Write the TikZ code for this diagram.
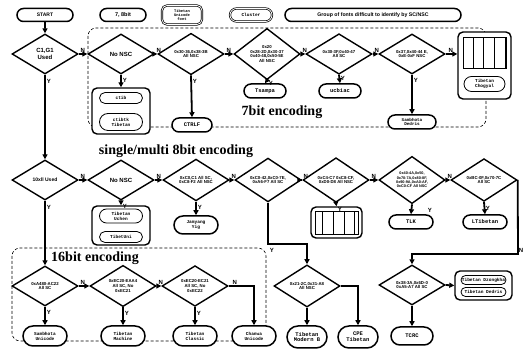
\documentclass[tikz,border=0pt]{standalone}
\usepackage{fontspec}
\newfontfamily\dsans{Liberation Sans}
\newfontfamily\dmono{Liberation Mono}
\newfontfamily\dserif{Liberation Serif}
\usetikzlibrary{shapes.geometric,shapes.misc,arrows.meta,calc}
\begin{document}
\begin{tikzpicture}[x=1pt,y=-1pt,
 dia/.style={diamond, draw, line width=1.4pt, minimum width=66pt, minimum height=40pt, inner sep=0pt, align=center, fill=white, font=\dsans\bfseries\fontsize{4.3}{4.9}\selectfont},
 bigt/.style={font=\dsans\bfseries\fontsize{6}{6.5}\selectfont},
 pill/.style={rounded rectangle, draw, line width=1.5pt, minimum width=44pt, minimum height=14pt, inner sep=1pt, align=center, fill=white, font=\dmono\bfseries\fontsize{5.5}{5.8}\selectfont},
 ipill/.style={rounded rectangle, draw, line width=0.8pt, minimum width=44pt, minimum height=10pt, inner sep=0.5pt, align=center, fill=white, font=\dmono\bfseries\fontsize{4.5}{4.8}\selectfont},
 grp/.style={draw, line width=1.4pt, rounded corners=5pt, fill=white},
 arr/.style={line width=1.8pt, -{Triangle[length=5pt,width=5pt]}},
 lab/.style={font=\dsans\bfseries\fontsize{6}{6}\selectfont, inner sep=1pt},
 region/.style={densely dashed, line width=0.6pt, rounded corners=8pt},
 head/.style={font=\dserif\bfseries\fontsize{14}{14}\selectfont}
]
\useasboundingbox (0,0) rectangle (523,352);
% regions
\draw[region] (88,28) rectangle (486,127);
\draw[region] (12,248) rectangle (266,341);
% headings
\node[head] (h7) at (282,112) {7bit encoding};
\node[head] (h8) at (176,151) {single/multi 8bit encoding};
\node[head] (h16) at (95,258) {16bit encoding};
% legend
\node[pill, minimum width=58pt, minimum height=13pt, font=\dsans\bfseries\fontsize{5}{5}\selectfont] (start) at (45,15) {START};
\node[pill, minimum width=48pt, minimum height=13pt, font=\dsans\bfseries\fontsize{5.5}{5.5}\selectfont] (lg1) at (123,15) {7, 8bit};
\node[grp, minimum width=40pt, minimum height=19pt, double, double distance=0.8pt, line width=0.7pt, align=center, font=\dmono\bfseries\fontsize{3.8}{4.2}\selectfont] (lg2) at (182,15) {Tibetan\\Unicode\\font};
\node[pill, minimum width=44pt, minimum height=13pt, double, double distance=0.8pt, line width=0.7pt, font=\dmono\bfseries\fontsize{4.5}{4.5}\selectfont] (lg3) at (251,15) {Cluster};
\node[pill, minimum width=178pt, minimum height=13pt, font=\dsans\bfseries\fontsize{5.2}{5.2}\selectfont] (lg4) at (373,15) {Group of fonts difficult to identify by SC/NSC};
% row 1 diamonds
\node[dia, bigt] (d1) at (45,54) {C1,G1\\Used};
\node[dia, bigt] (d2) at (121,54) {No NSC};
\node[dia] (d3) at (191,54) {0x30-36,0x38-3B\\All NSC};
\node[dia] (d4) at (267,54) {0x20\\0x28-2D,0x30-37\\0x40-48,0x50-5E\\All NSC};
\node[dia] (d5) at (339,54) {0x30-3F,0x40-47\\All SC};
\node[dia] (d6) at (412,54) {0x37,0x40-44 E,\\0xE-0xF NSC};
% row 1 outputs
\node[grp, minimum width=58pt, minimum height=46pt] (b2) at (121,111) {};
\node[ipill, minimum height=11pt] (b2a) at (121,98) {ctib};
\node[ipill, minimum height=17pt] (b2b) at (121,122) {ctibtk\\Tibetan};
\node[pill, minimum width=42pt] (p3) at (192,125) {CTRLF};
\node[pill] (p4) at (265,91) {Tsampa};
\node[pill] (p5) at (340,91) {ucbiac};
\node[pill, minimum width=50pt, font=\dmono\bfseries\fontsize{4.3}{4.6}\selectfont] (p6) at (412,122) {Sambhota\\Dedris};
\node[grp, minimum width=53pt, minimum height=67pt] (bb) at (484.5,65.5) {};
\draw[line width=0.6pt] (463,37) grid[xstep=10.75,ystep=5.17] (506,68);
\draw[line width=0.9pt] (463,37) rectangle (506,68);
\node[ipill, minimum width=42pt, minimum height=15pt] (bbp) at (484.5,84) {Tibetan\\Chogyal};
% row 2 diamonds
\node[dia, bigt, font=\dsans\bfseries\fontsize{5}{5.5}\selectfont] (d7) at (45,180) {10xll Used};
\node[dia, bigt] (d8) at (121,180) {No NSC};
\node[dia] (d9) at (196,180) {0xC0,C1 All SC,\\0xC8-F2 All NSC};
\node[dia] (d10) at (268,180) {0xC0-42,0xC0-7E,\\0xA6-F7 All SC};
\node[dia] (d11) at (336,180) {0xC4-C7 0xC8-CF,\\0xD0-D8 All NSC};
\node[dia, font=\dsans\bfseries\fontsize{3.8}{4.3}\selectfont] (d12) at (412,180) {0x40-4A,0x50,\\0x70-7A,0x80-8F,\\0x90-9A,0xA0-AF,\\0xC0-CF All NSC};
\node[dia] (d13) at (484,180) {0xBC-0F,0x70-7C\\All SC};
% row 2 outputs
\node[grp, minimum width=58pt, minimum height=39pt] (b8) at (121,225.5) {};
\node[ipill, minimum height=14pt] (b8a) at (121,216) {Tibetan\\Uchen};
\node[ipill, minimum height=11pt] (b8b) at (121,237) {TibetUni};
\node[pill, minimum width=46pt, minimum height=18pt, font=\dmono\bfseries\fontsize{4.5}{4.8}\selectfont] (p9) at (196,225) {Jamyang\\Yig};
\node[grp, minimum width=51pt, minimum height=31pt] (b11) at (336.5,222.5) {};
\draw[line width=0.6pt] (315,211) grid[xstep=10.75,ystep=4.66] (358,234);
\draw[line width=0.9pt] (315,211) rectangle (358,234);
\node[pill, minimum width=46pt] (p12) at (411,222) {TLK};
\node[pill, minimum width=46pt] (p13) at (485,222) {LTibetan};
% row 3 diamonds
\node[dia] (d16) at (45,286) {0xA480-AC22\\All SC};
\node[dia] (d17) at (123,286) {0xEC20-EAA4\\All SC, No\\0xEC21};
\node[dia] (d18) at (195,286) {0xEC20-EC21\\All SC, No\\0xEC22};
% row 3 outputs
\node[pill, minimum width=46pt, minimum height=20pt, font=\dmono\bfseries\fontsize{4.5}{4.8}\selectfont] (p16) at (45,336) {Sambhota\\Unicode};
\node[pill, minimum width=46pt, minimum height=20pt, font=\dmono\bfseries\fontsize{4.5}{4.8}\selectfont] (p17) at (123,336) {Tibetan\\Machine};
\node[pill, minimum width=46pt, minimum height=20pt, font=\dmono\bfseries\fontsize{4.5}{4.8}\selectfont] (p18) at (195,336) {Tibetan\\Classic};
\node[pill, minimum width=46pt, minimum height=20pt, font=\dmono\bfseries\fontsize{4.5}{4.8}\selectfont] (p19) at (254,336) {Chanwa\\Unicode};
% right lower part
\node[dia, font=\dsans\bfseries\fontsize{4.3}{4.9}\selectfont] (d14) at (307,286) {0x21-2C,0x31-A8\\All NSC};
\node[dia] (d15) at (412,285) {0x38-3A,0x6D-0\\0xA5-A7 All SC};
\node[pill, minimum width=42pt, minimum height=22pt] (p14a) at (307,337) {Tibetan\\Modern B};
\node[pill, minimum width=42pt, minimum height=22pt] (p14b) at (358,337) {CPE\\Tibetan};
\node[pill, minimum width=44pt, minimum height=18pt] (p15) at (412,336) {TCRC};
\node[grp, minimum width=57pt, minimum height=29pt] (b15) at (483.5,285.5) {};
\node[ipill, minimum width=46pt, minimum height=9pt] (b15a) at (483.5,280) {Tibetan Dzongkha};
\node[ipill, minimum width=46pt, minimum height=9pt] (b15b) at (483.5,292) {Tibetan Dedris};
% connectors row 1
\draw[arr] (start) -- (d1);
\draw[arr] (d1.east) -- (d2.west) node[lab, above, at start, xshift=4pt] (n1) {N};
\draw[arr] (d2.east) -- (d3.west) node[lab, above, at start, xshift=4pt] (n2) {N};
\draw[arr] (d3.east) -- (d4.west) node[lab, above, at start, xshift=4pt] (n3) {N};
\draw[arr] (d4.east) -- (d5.west) node[lab, above, at start, xshift=4pt] (n4) {N};
\draw[arr] (d5.east) -- (d6.west) node[lab, above, at start, xshift=4pt] (n5) {N};
\draw[arr] (d6.east) -- (d6.east -| bb.west) node[lab, above, at start, xshift=5pt] (n6) {N};
\draw[arr] (d1.south) -- (d7.north) node[lab, right, at start, yshift=-7pt] (y1) {Y};
\draw[arr] (d2.south) -- (b2.north) node[lab, right, at start, yshift=-6pt] (y2) {Y};
\draw[arr] (d3.south) -- (p3.north) node[lab, right, at start, yshift=-6pt] (y3) {Y};
\draw[arr] (d4.south) -- (p4.north) node[lab, right, at start, yshift=-3.5pt] (y4) {Y};
\draw[arr] (d5.south) -- (p5.north) node[lab, right, at start, yshift=-3.5pt] (y5) {Y};
\draw[arr] (d6.south) -- (p6.north) node[lab, right, at start, yshift=-6pt] (y6) {Y};
% connectors row 2
\draw[arr] (d7.east) -- (d8.west) node[lab, above, at start, xshift=4pt] (n7) {N};
\draw[arr] (d8.east) -- (d9.west) node[lab, above, at start, xshift=4pt] (n8) {N};
\draw[arr] (d9.east) -- (d10.west) node[lab, above, at start, xshift=4pt] (n9) {N};
\draw[arr] (d10.east) -- (d11.west) node[lab, above, at start, xshift=4pt] (n10) {N};
\draw[arr] (d11.east) -- (d12.west) node[lab, above, at start, xshift=4pt] (n11) {N};
\draw[arr] (d12.east) -- (d13.west) node[lab, above, at start, xshift=4pt] (n12) {N};
\coordinate (c13) at (518,254);
\draw[arr] (d13.east) -- (c13) -| (d15.north) node[lab, above right, at start, xshift=-1pt] (n13) {N};
\draw[arr] (d7.south) -- (d16.north) node[lab, right, at start, yshift=-7pt] (y7) {Y};
\draw[arr] (d8.south) -- (b8.north) node[lab, right, at start, yshift=-6pt] (y8) {Y};
\draw[arr] (d9.south) -- (p9.north) node[lab, right, at start, yshift=-6pt] (y9) {Y};
\coordinate (c10) at (268,244);
\draw[arr] (d10.south) -- (c10) -| (d14.north) node[lab, right, at start, yshift=-6pt] (y10) {Y};
\draw[arr] (d11.south) -- (b11.north) node[lab, right, at start, yshift=-6pt] (y11) {Y};
\draw[arr] (d12.south) -- (p12.north) node[lab, right, at start, yshift=-6pt, xshift=14pt] (y12) {Y};
\draw[arr] (d13.south) -- (p13.north) node[lab, right, at start, yshift=-6pt] (y13) {Y};
% connectors row 3
\draw[arr] (d16.east) -- (d17.west) node[lab, above, at start, xshift=4pt] (n16) {N};
\draw[arr] (d17.east) -- (d18.west) node[lab, above, at start, xshift=4pt] (n17) {N};
\draw[arr] (d18.east) -| (p19.north) node[lab, above, at start, xshift=6pt] (n18) {N};
\draw[arr] (d16.south) -- (p16.north) node[lab, right, at start, yshift=-6pt] (y16) {Y};
\draw[arr] (d17.south) -- (p17.north) node[lab, right, at start, yshift=-6pt] (y17) {Y};
\draw[arr] (d18.south) -- (p18.north) node[lab, right, at start, yshift=-6pt] (y18) {Y};
\draw[arr] (d14.south) -- (p14a.north);
\draw[arr] (d14.east) -| (p14b.north);
\draw[arr] (d15.east) -- (b15.west);
\draw[arr] (d15.south) -- (p15.north);
\end{tikzpicture}
\end{document}
